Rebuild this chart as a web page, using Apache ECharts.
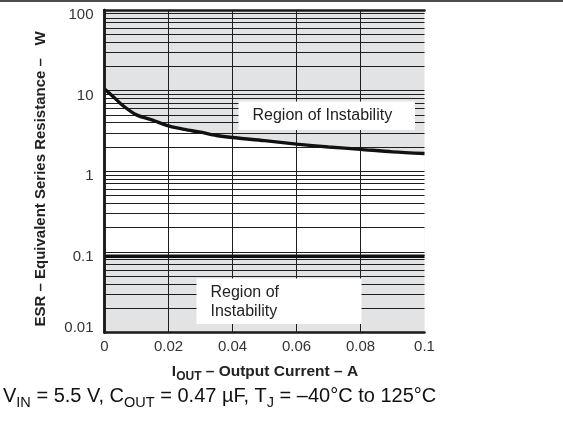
<!DOCTYPE html>
<html>
<head>
<meta charset="utf-8">
<script src="https://cdn.jsdelivr.net/npm/echarts@6/dist/echarts.min.js"></script>
<style>html,body{margin:0;padding:0;background:#fff;}#c{width:563px;height:423px;}</style>
</head>
<body>
<div id="c"></div>
<script>
// Data
var currentA = [0, 0.003, 0.006, 0.01, 0.015, 0.02, 0.025, 0.03, 0.035, 0.04, 0.05, 0.06, 0.07, 0.08, 0.09, 0.1];
var esrUpperBound = [10.5, 8.2, 6.4, 5.0, 4.3, 3.65, 3.3, 3.05, 2.78, 2.62, 2.4, 2.17, 2.0, 1.87, 1.74, 1.66];
var esrLowerBound = 0.088;
var esrTop = 100;
var xTicks = [0, 0.02, 0.04, 0.06, 0.08, 0.1];
var yDecades = [0.01, 0.1, 1, 10, 100];

var GRAY = '#e2e3e5';
var upperPts = currentA.map(function (x, i) { return [x, esrUpperBound[i]]; });
var topPts = [[currentA[0], esrTop], [currentA[currentA.length - 1], esrTop]];
var lowPts = [[currentA[0], esrLowerBound], [currentA[currentA.length - 1], esrLowerBound]];

// log grid lines 1..9 per decade
var hLines = [];
for (var d = 0; d < yDecades.length - 1; d++) {
  for (var k = 1; k <= 9; k++) hLines.push({ yAxis: +(yDecades[d] * k).toPrecision(3) });
}
hLines.push({ yAxis: yDecades[yDecades.length - 1] });
var vLines = xTicks.slice(1, -1).map(function (v) { return { xAxis: v }; });

var chart = echarts.init(document.getElementById('c'), null, { renderer: 'canvas' });
var axisFont = 'Liberation Sans, Arial, sans-serif';
chart.setOption({
  animation: false,
  backgroundColor: '#fff',
  grid: { left: 104.5, right: 138.5, top: 10, bottom: 90.5 },
  xAxis: [{
    type: 'value', min: 0, max: 0.1, interval: 0.02, z: 10,
    axisLine: { show: true, lineStyle: { color: '#1a1a1a', width: 2.5 } },
    axisTick: { show: false }, splitLine: { show: false },
    axisLabel: { color: '#333', fontSize: 15, fontFamily: axisFont, margin: 7,
      formatter: function (v) { return String(+v.toFixed(2)); } }
  }, {
    type: 'value', min: 0, max: 0.1, position: 'top', z: 10,
    axisLine: { show: true, lineStyle: { color: '#1a1a1a', width: 2.5 } },
    axisTick: { show: false }, axisLabel: { show: false }, splitLine: { show: false }
  }],
  yAxis: [{
    type: 'log', logBase: 10, min: 0.01, max: 100, z: 10,
    axisLine: { show: true, lineStyle: { color: '#1a1a1a', width: 2.5 } },
    axisTick: { show: false }, splitLine: { show: false }, minorTick: { show: false },
    axisLabel: { color: '#333', fontSize: 15, fontFamily: axisFont, margin: 11,
      formatter: function (v) {
        var s = String(+v.toPrecision(3));
        return v < 0.05 ? '{lo|' + s + '}' : '{hi|' + s + '}';
      },
      rich: {
        lo: { fontSize: 15, fontFamily: axisFont, color: '#333', padding: [0, 0, 9, 0] },
        hi: { fontSize: 15, fontFamily: axisFont, color: '#333', padding: [10, 0, 0, 0] }
      }
    }
  }, {
    type: 'log', logBase: 10, min: 0.01, max: 100, position: 'right', z: 10,
    axisLine: { show: true, lineStyle: { color: '#1a1a1a', width: 2.5 } },
    axisTick: { show: false }, axisLabel: { show: false }, splitLine: { show: false }
  }],
  series: [
    { type: 'line', data: topPts, z: 1, symbol: 'none', silent: true,
      lineStyle: { width: 0, opacity: 0 }, areaStyle: { color: GRAY, opacity: 1, origin: 'start' } },
    { type: 'line', data: upperPts, z: 2, symbol: 'none', silent: true, smooth: 0.3,
      lineStyle: { width: 0, opacity: 0 }, areaStyle: { color: '#ffffff', opacity: 1, origin: 'start' } },
    { type: 'line', data: lowPts, z: 3, symbol: 'none', silent: true,
      lineStyle: { width: 0, opacity: 0 }, areaStyle: { color: GRAY, opacity: 1, origin: 'start' } },
    { type: 'line', data: [], z: 4, silent: true,
      markLine: { silent: true, symbol: 'none', label: { show: false },
        lineStyle: { color: '#1e1e1e', width: 1, type: 'solid' },
        data: hLines.concat(vLines) } },
    { type: 'line', data: upperPts, z: 6, symbol: 'none', silent: true, smooth: 0.3,
      lineStyle: { color: '#111', width: 3.4 } },
    { type: 'line', data: lowPts, z: 6, symbol: 'none', silent: true,
      lineStyle: { color: '#111', width: 3.5 } }
  ],
  graphic: [
    { type: 'line', z: 50, shape: { x1: 0, y1: 1, x2: 563, y2: 1 }, style: { stroke: '#111', lineWidth: 1.5 } },
    { type: 'rect', z: 50, shape: { x: 238.5, y: 101.5, width: 176.5, height: 28.5 }, style: { fill: '#fff' } },
    { type: 'text', z: 51, x: 252.5, y: 116, style: { text: 'Region of Instability', fill: '#222',
      font: '16px Liberation Sans, Arial, sans-serif', verticalAlign: 'middle' } },
    { type: 'rect', z: 50, shape: { x: 196.5, y: 278.5, width: 165, height: 45.5 }, style: { fill: '#fff' } },
    { type: 'text', z: 51, x: 210.5, y: 302, style: { text: 'Region of\nInstability', fill: '#222',
      font: '16px Liberation Sans, Arial, sans-serif', lineHeight: 18.5, verticalAlign: 'middle' } },
    { type: 'text', z: 51, x: 41, y: 179, rotation: Math.PI / 2,
      style: { text: 'ESR – Equivalent Series Resistance –   W', fill: '#222',
        font: 'bold 15px Liberation Sans, Arial, sans-serif', align: 'center', verticalAlign: 'middle' } },
    { type: 'text', z: 51, x: 265, y: 373, style: {
      text: '{b|I}{sb|OUT}{b| – Output Current – A}', align: 'center', verticalAlign: 'middle',
      rich: {
        b: { font: 'bold 15.5px Liberation Sans, Arial, sans-serif', fill: '#222', lineHeight: 19, verticalAlign: 'top' },
        sb: { font: 'bold 12px Liberation Sans, Arial, sans-serif', fill: '#222', lineHeight: 13, verticalAlign: 'bottom', padding: [9, 0, 0, 0] }
      } } },
    { type: 'text', z: 51, x: 3, y: 398, style: {
      text: '{n|V}{s|IN}{n| = 5.5 V, C}{s|OUT}{n| = 0.47 µF, T}{s|J}{n| = –40°C to 125°C}', align: 'left', verticalAlign: 'middle',
      rich: {
        n: { font: '20px Liberation Sans, Arial, sans-serif', fill: '#111', lineHeight: 24, verticalAlign: 'top' },
        s: { font: '14.5px Liberation Sans, Arial, sans-serif', fill: '#111', lineHeight: 15, verticalAlign: 'bottom', padding: [11, 0, 0, 0] }
      } } }
  ]
});
</script>
</body>
</html>
